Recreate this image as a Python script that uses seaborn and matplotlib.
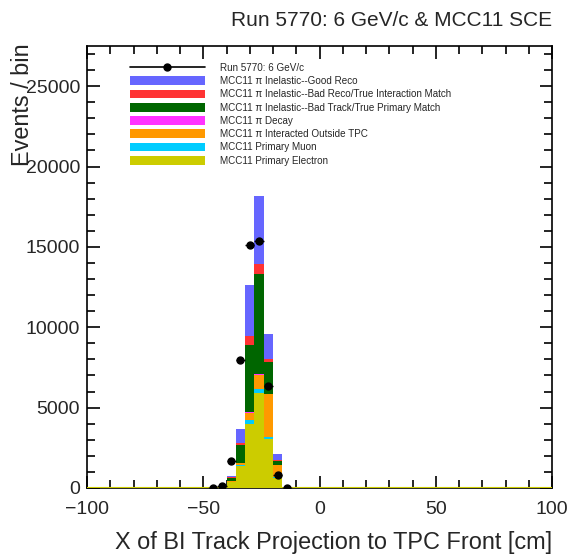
import numpy as np
import pandas as pd
import matplotlib
matplotlib.use("Agg")
import matplotlib.pyplot as plt
import seaborn as sns
from matplotlib.lines import Line2D
from matplotlib.patches import Patch
from matplotlib.ticker import MultipleLocator

# ---------------- data ----------------
bin_width = 4
x_range = (-100, 100)
mc_centers = [-38, -34, -30, -26, -22, -18]

good_reco = [103, 880, 3179, 4234, 1570, 377]
bad_reco = [30, 147, 546, 646, 210, 63]
bad_track = [210, 1110, 4200, 6219, 1960, 293]
pi_decay = [0, 0, 30, 58, 28, 0]
outside_tpc = [30, 105, 460, 884, 2682, 691]
primary_muon = [23, 105, 273, 251, 103, 62]
primary_electron = [377, 1340, 3957, 5905, 3057, 650]

data_centers = [-46, -42, -38, -34, -30, -26, -22, -18, -14]
data_values = [10, 130, 1680, 7980, 15120, 15370, 6320, 815, 10]

categories = [
    "MCC11 \u03c0 Inelastic--Good Reco",
    "MCC11 \u03c0 Inelastic--Bad Reco/True Interaction Match",
    "MCC11 \u03c0 Inelastic--Bad Track/True Primary Match",
    "MCC11 \u03c0 Decay",
    "MCC11 \u03c0 Interacted Outside TPC",
    "MCC11 Primary Muon",
    "MCC11 Primary Electron",
]
series = [good_reco, bad_reco, bad_track, pi_decay, outside_tpc,
          primary_muon, primary_electron]
colors = ["#6666ff", "#ff3333", "#006600", "#ff33ff", "#ff9900",
          "#00ccff", "#cccc00"]
data_label = "Run 5770: 6 GeV/c"

rows = []
for cat, vals in zip(categories, series):
    for c, v in zip(mc_centers, vals):
        rows.append({"x": float(c), "w": float(v), "cat": cat})
df = pd.DataFrame(rows)

# ---------------- style ----------------
sns.set_style("ticks")
plt.rcParams["font.family"] = ["Liberation Sans", "DejaVu Sans"]
FS_TICK = 14
FS_LABEL = 16.9
FS_TITLE = 15

fig = plt.figure(figsize=(5.72, 5.57), dpi=100)
ax = fig.add_axes([87 / 572, 69 / 557, 465 / 572, 442 / 557])

sns.histplot(data=df, x="x", weights="w", hue="cat", hue_order=categories,
             palette=dict(zip(categories, colors)), multiple="stack",
             binwidth=bin_width, binrange=x_range, element="step",
             fill=True, alpha=1, linewidth=0, legend=False, ax=ax)
ax.axhline(0, color="#cccc00", lw=1.5, zorder=3)

ax.errorbar(data_centers, data_values, xerr=bin_width / 2,
            yerr=np.sqrt(data_values), fmt="o", color="black", ms=5,
            lw=1, capsize=0, zorder=5)

ax.set_xlim(*x_range)
ax.set_ylim(0, 27500)
ax.xaxis.set_major_locator(MultipleLocator(50))
ax.xaxis.set_minor_locator(MultipleLocator(10))
ax.yaxis.set_major_locator(MultipleLocator(5000))
ax.yaxis.set_minor_locator(MultipleLocator(1000))
ax.tick_params(which="both", direction="in", top=True, right=True,
               width=1.2, color="black", labelsize=FS_TICK)
ax.tick_params(which="major", length=9)
ax.tick_params(which="minor", length=5.5)
ax.tick_params(axis="x", pad=9)
ax.tick_params(axis="y", pad=5)
for s in ax.spines.values():
    s.set_linewidth(1.2)
    s.set_color("black")

ax.set_xlabel("X of BI Track Projection to TPC Front [cm]", loc="right",
              fontsize=FS_LABEL, labelpad=10)
ax.set_ylabel("Events / bin", loc="top", fontsize=FS_LABEL)
ax.yaxis.set_label_coords(-0.113, 1.005)

fig.text(552 / 572, 1 - 20 / 557, "Run 5770: 6 GeV/c & MCC11 SCE",
         ha="right", va="center", fontsize=FS_TITLE)

handles = [Line2D([0], [0], color="black", lw=1.2, marker="o", ms=5)]
handles += [Patch(facecolor=c, edgecolor="none") for c in colors]
labels = [data_label] + categories
ax.legend(handles, labels, loc="upper left", bbox_to_anchor=(0.0925, 0.962),
          frameon=False, fontsize=7.1, handlelength=7.6, handleheight=1.0,
          handletextpad=1.5, labelspacing=0.33, borderpad=0, borderaxespad=0)

fig.savefig("out.png", dpi=100)
